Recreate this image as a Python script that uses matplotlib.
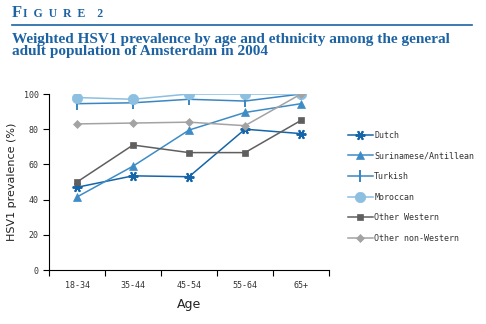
import numpy as np
from matplotlib import pyplot as plt
from matplotlib.lines import Line2D

ages = ['18-34', '35-44', '45-54', '55-64', '65+']
groups = ['Dutch', 'Surinamese/Antillean', 'Turkish', 'Moroccan',
          'Other Western', 'Other non-Western']
dutch = [47, 53.5, 53, 80, 77.5]
surinamese = [41.5, 59, 79.5, 89.5, 94.5]
turkish = [94.5, 95, 97, 96, 100]
moroccan = [98, 97, 100, 100, 100]
other_western = [50, 71, 66.7, 66.7, 85]
other_nonwestern = [83, 83.5, 84, 82, 100]

series = [dutch, surinamese, turkish, moroccan, other_western, other_nonwestern]
colors = ['#1565a8', '#3d8cc6', '#3a86c2', '#8cbfe0', '#5f5f5f', '#a3a3a3']
markers = [(6, 2, 90), '^', '|', 'o', 's', 'D']
msizes = [7, 6, 8, 7.5, 5, 4]


def edge_w(m):
    return 1.4 if m in ('|',) or isinstance(m, tuple) else 0.5


fig = plt.figure(figsize=(4.86, 3.24), dpi=100)
ax = fig.add_axes([49/486, 1 - 270/324, 280/486, 176/324])

x = np.arange(len(ages))
for vals, c, m, ms in zip(series, colors, markers, msizes):
    ax.plot(x, vals, color=c, marker=m, markersize=ms, lw=1.1,
            markeredgewidth=edge_w(m), markeredgecolor=c)

ax.set_xlim(-0.5, 4.5)
ax.set_ylim(0, 100)
ax.set_yticks(range(0, 101, 20))
ax.set_xticks(np.arange(-0.5, 5, 1))
ax.set_xticklabels([])
ax.set_xticks(x, minor=True)
ax.set_xticklabels(ages, minor=True)
ax.tick_params(axis='x', which='minor', length=0, pad=8)
ax.tick_params(axis='x', which='major', length=4, width=0.8)
ax.tick_params(axis='y', length=4, width=0.8)
for lab in ax.get_xticklabels(minor=True) + ax.get_yticklabels():
    lab.set_fontfamily('DejaVu Sans Mono')
    lab.set_fontsize(6)
    lab.set_color('#333333')
ax.spines['top'].set_visible(False)
ax.spines['right'].set_visible(False)
ax.set_ylabel('HSV1 prevalence (%)', fontsize=8, color='#222222', labelpad=5)
ax.set_xlabel('Age', fontsize=9, color='#222222', labelpad=6)

handles = [Line2D([], [], color=c, marker=m, markersize=ms, lw=1.1,
                  markeredgewidth=edge_w(m), markeredgecolor=c)
           for c, m, ms in zip(colors, markers, msizes)]
leg = fig.legend(handles, groups, loc='upper left', bbox_to_anchor=(340/486, 1 - 123/324),
                 frameon=False, handlelength=3, labelspacing=1.4, handletextpad=0.2,
                 prop={'family': 'DejaVu Sans Mono', 'size': 6})
for t in leg.get_texts():
    t.set_color('#333333')

blue = '#1d63a3'
fig.text(12/486, 1 - 13/324, 'F', fontsize=12, family='Liberation Serif',
         weight='bold', color=blue, va='center')
fig.text(23/486, 1 - 14/324, 'I  G  U  R  E    2', fontsize=8.5, family='Liberation Serif',
         weight='bold', color=blue, va='center')
fig.add_artist(Line2D([12/486, 472/486], [1 - 25/324, 1 - 25/324], color=blue, lw=1.2))
fig.text(12/486, 1 - 45/324,
         'Weighted HSV1 prevalence by age and ethnicity among the general\n'
         'adult population of Amsterdam in 2004',
         fontsize=11, family='Liberation Serif', weight='bold', color=blue,
         va='center', linespacing=0.9)

plt.savefig('out.png', dpi=100)
